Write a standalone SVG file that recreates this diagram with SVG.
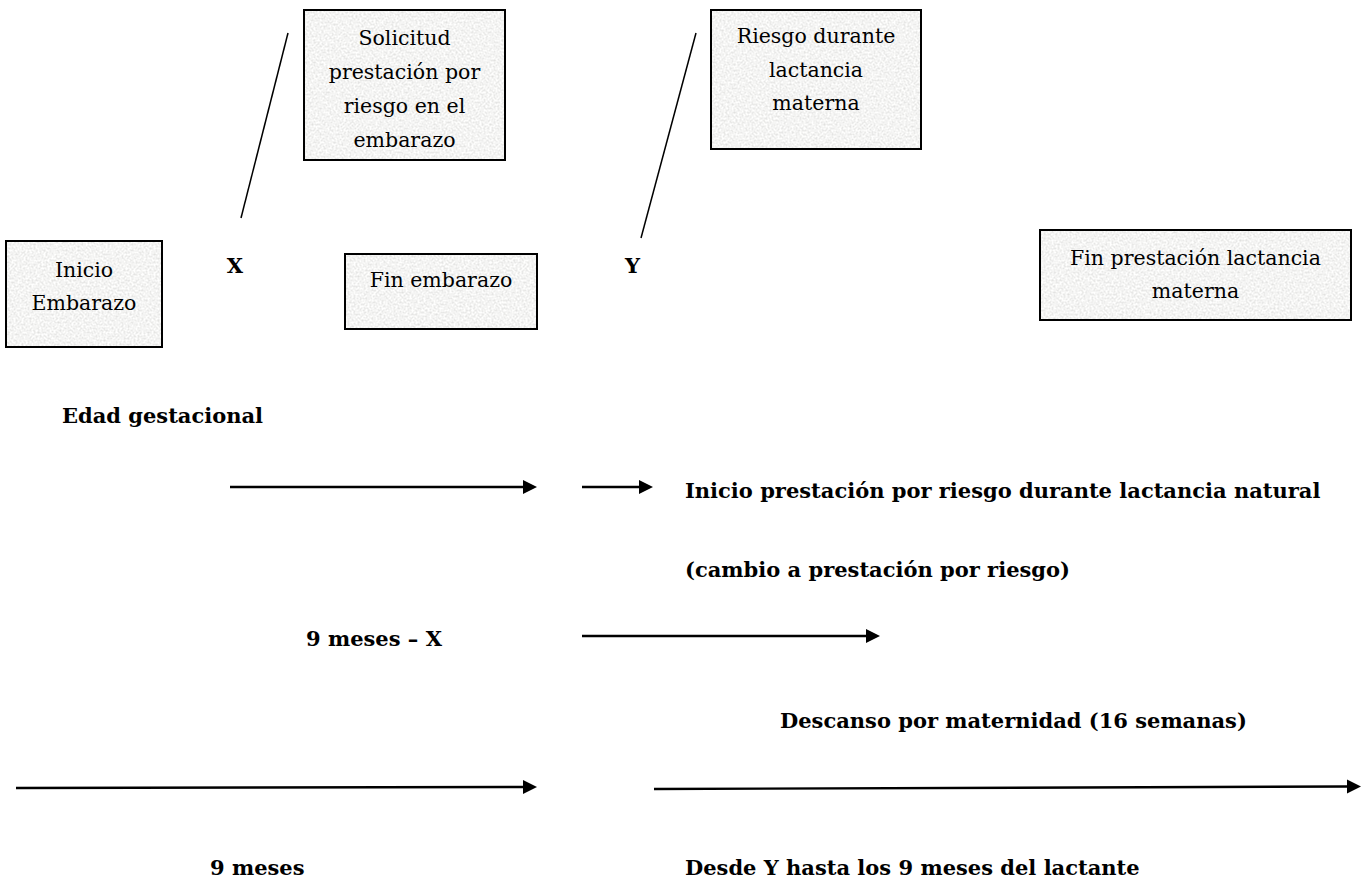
<svg xmlns="http://www.w3.org/2000/svg" width="1367" height="891" viewBox="0 0 1367 891">
<defs>
<filter id="grain" x="0" y="0" width="100%" height="100%" filterUnits="objectBoundingBox">
<feTurbulence type="fractalNoise" baseFrequency="0.5" numOctaves="3" seed="7"/>
<feColorMatrix type="matrix" values="0.45 0 0 0 0.68  0.45 0 0 0 0.68  0.45 0 0 0 0.67  0 0 0 0 1"/>
</filter>
<marker id="ah" markerUnits="userSpaceOnUse" markerWidth="16" markerHeight="16" refX="0" refY="7.5" orient="auto">
<path d="M0,0.5 L14,7.5 L0,14.5 z" fill="#000"/>
</marker>
<style>
.box{fill:#e6e6e4;stroke:none}
.frame{fill:none;stroke:#000;stroke-width:2}
.bt{font-family:"DejaVu Serif","Liberation Serif",serif;font-size:20.5px;fill:#000;text-anchor:middle}
.lb{font-family:"DejaVu Serif","Liberation Serif",serif;font-size:21px;font-weight:bold;fill:#000}
.conn{stroke:#000;stroke-width:1.5;fill:none}
.arr{stroke:#000;stroke-width:2.4;fill:none;marker-end:url(#ah)}
</style>
</defs>
<rect width="1367" height="891" fill="#fff"/>

<g id="n-inicio">
<rect class="box" x="6" y="241" width="156" height="106" filter="url(#grain)"/>
<rect class="frame" x="6" y="241" width="156" height="106"/>
<text class="bt" x="84" y="277">Inicio</text>
<text class="bt" x="84" y="310">Embarazo</text>
</g>

<g id="n-solicitud">
<rect class="box" x="304" y="10" width="201" height="150" filter="url(#grain)"/>
<rect class="frame" x="304" y="10" width="201" height="150"/>
<text class="bt" x="404.5" y="45">Solicitud</text>
<text class="bt" x="404.5" y="79">prestación por</text>
<text class="bt" x="404.5" y="113">riesgo en el</text>
<text class="bt" x="404.5" y="147">embarazo</text>
</g>

<g id="n-fin-embarazo">
<rect class="box" x="345" y="254" width="192" height="75" filter="url(#grain)"/>
<rect class="frame" x="345" y="254" width="192" height="75"/>
<text class="bt" x="441" y="287">Fin embarazo</text>
</g>

<g id="n-riesgo">
<rect class="box" x="711" y="10" width="210" height="139" filter="url(#grain)"/>
<rect class="frame" x="711" y="10" width="210" height="139"/>
<text class="bt" x="816" y="43">Riesgo durante</text>
<text class="bt" x="816" y="77">lactancia</text>
<text class="bt" x="816" y="110">materna</text>
</g>

<g id="n-fin-lactancia">
<rect class="box" x="1040" y="230" width="311" height="90" filter="url(#grain)"/>
<rect class="frame" x="1040" y="230" width="311" height="90"/>
<text class="bt" x="1195.5" y="265">Fin prestación lactancia</text>
<text class="bt" x="1195.5" y="298">materna</text>
</g>

<g id="labels">
<text class="lb" x="235" y="273" text-anchor="middle">X</text>
<text class="lb" x="632.5" y="273" text-anchor="middle">Y</text>
<text class="lb" x="62" y="423">Edad gestacional</text>
<text class="lb" x="685" y="498">Inicio prestación por riesgo durante lactancia natural</text>
<text class="lb" x="685" y="577">(cambio a prestación por riesgo)</text>
<text class="lb" x="306" y="646">9 meses – X</text>
<text class="lb" x="780" y="728">Descanso por maternidad (16 semanas)</text>
<text class="lb" x="210" y="875">9 meses</text>
<text class="lb" x="685" y="875">Desde Y hasta los 9 meses del lactante</text>
</g>

<g id="connectors">
<line class="conn" x1="288" y1="33" x2="241" y2="218"/>
<line class="conn" x1="696" y1="33" x2="641" y2="238"/>
<line class="arr" x1="230" y1="487" x2="523" y2="487"/>
<line class="arr" x1="582" y1="487" x2="639" y2="487"/>
<line class="arr" x1="582" y1="636" x2="866" y2="636"/>
<line class="arr" x1="16" y1="788" x2="523" y2="787"/>
<line class="arr" x1="654" y1="789" x2="1347" y2="786.5"/>
</g>
</svg>
